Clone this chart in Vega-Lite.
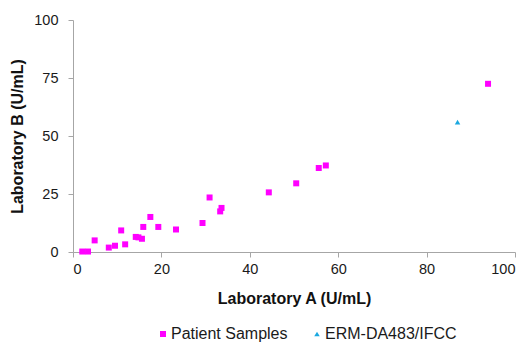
{
  "$schema": "https://vega.github.io/schema/vega-lite/v6.json",
  "width": 442,
  "height": 232,
  "autosize": {"type": "none"},
  "padding": {"left": 73, "top": 20, "right": 15, "bottom": 92},
  "background": "white",
  "config": {
    "view": {"stroke": null},
    "font": "Liberation Sans",
    "axis": {
      "grid": false,
      "domainColor": "#a6a6a6",
      "tickColor": "#a6a6a6",
      "tickSize": 5,
      "labelFont": "Liberation Sans",
      "labelFontSize": 14.5,
      "labelColor": "#1a1a1a",
      "titleFont": "Liberation Sans",
      "titleFontSize": 16,
      "titleFontWeight": "bold",
      "titleColor": "#111111"
    }
  },
  "data": {
    "values": [
      {"a": 2.1, "b": 0.2, "series": "Patient Samples"},
      {"a": 3.4, "b": 0.2, "series": "Patient Samples"},
      {"a": 4.9, "b": 5.0, "series": "Patient Samples"},
      {"a": 8.1, "b": 1.9, "series": "Patient Samples"},
      {"a": 9.5, "b": 2.7, "series": "Patient Samples"},
      {"a": 10.9, "b": 9.3, "series": "Patient Samples"},
      {"a": 11.8, "b": 3.3, "series": "Patient Samples"},
      {"a": 14.2, "b": 6.5, "series": "Patient Samples"},
      {"a": 14.8, "b": 6.3, "series": "Patient Samples"},
      {"a": 15.6, "b": 5.7, "series": "Patient Samples"},
      {"a": 15.9, "b": 10.8, "series": "Patient Samples"},
      {"a": 17.5, "b": 15.1, "series": "Patient Samples"},
      {"a": 19.3, "b": 10.8, "series": "Patient Samples"},
      {"a": 23.3, "b": 9.7, "series": "Patient Samples"},
      {"a": 29.3, "b": 12.5, "series": "Patient Samples"},
      {"a": 30.9, "b": 23.5, "series": "Patient Samples"},
      {"a": 33.3, "b": 17.5, "series": "Patient Samples"},
      {"a": 33.6, "b": 19.0, "series": "Patient Samples"},
      {"a": 44.3, "b": 25.7, "series": "Patient Samples"},
      {"a": 50.5, "b": 29.6, "series": "Patient Samples"},
      {"a": 55.6, "b": 36.2, "series": "Patient Samples"},
      {"a": 57.2, "b": 37.3, "series": "Patient Samples"},
      {"a": 93.9, "b": 72.5, "series": "Patient Samples"},
      {"a": 87.0, "b": 56.0, "series": "ERM-DA483/IFCC"}
    ]
  },
  "mark": {"type": "point", "filled": true, "opacity": 1, "size": 36},
  "encoding": {
    "x": {
      "field": "a", "type": "quantitative",
      "scale": {"domain": [0, 100], "nice": false},
      "axis": {"values": [0, 20, 40, 60, 80, 100], "title": "Laboratory A (U/mL)", "titlePadding": 15, "labelPadding": 5}
    },
    "y": {
      "field": "b", "type": "quantitative",
      "scale": {"domain": [0, 100], "nice": false},
      "axis": {"values": [0, 25, 50, 75, 100], "title": "Laboratory B (U/mL)", "titlePadding": 8, "labelPadding": 10}
    },
    "color": {
      "field": "series", "type": "nominal",
      "scale": {"domain": ["Patient Samples", "ERM-DA483/IFCC"], "range": ["#ff00ff", "#1aa8e0"]},
      "legend": {
        "orient": "none", "legendX": 82, "legendY": 306, "direction": "horizontal", "title": null,
        "labelFont": "Liberation Sans", "labelFontSize": 16, "labelColor": "#1a1a1a",
        "symbolSize": 25, "columnPadding": 21, "labelOffset": 0
      }
    },
    "shape": {
      "field": "series", "type": "nominal",
      "scale": {"domain": ["Patient Samples", "ERM-DA483/IFCC"], "range": ["square", "triangle-up"]},
      "legend": null
    },
    "size": {
      "field": "series", "type": "nominal",
      "scale": {"domain": ["Patient Samples", "ERM-DA483/IFCC"], "range": [36, 30]},
      "legend": null
    }
  }
}
